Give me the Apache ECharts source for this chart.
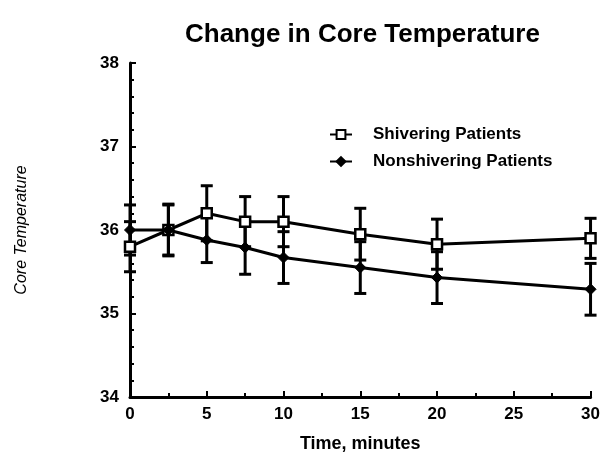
<!DOCTYPE html>
<html>
<head>
<meta charset="utf-8">
<script src="https://cdn.jsdelivr.net/npm/echarts@6/dist/echarts.min.js"></script>
<style>
  html, body { margin: 0; padding: 0; background: #fff; }
  #chart { width: 603px; height: 468px; }
</style>
</head>
<body>
<div id="chart"></div>
<script>
// time points (minutes)
let times = [0, 2.5, 5, 7.5, 10, 15, 20, 30];

// mean core temperature
let shivering    = [35.8, 36.0, 36.2, 36.1, 36.1, 35.95, 35.83, 35.9];
let nonShivering = [36.0, 36.0, 35.88, 35.79, 35.67, 35.55, 35.43, 35.29];

// error bar half-widths
let shiveringErr    = [0.3, 0.3, 0.33, 0.3, 0.3, 0.31, 0.3, 0.24];
let nonShiveringErr = [0.3, 0.31, 0.27, 0.32, 0.31, 0.31, 0.31, 0.31];

let font = '"Liberation Sans", Arial, Helvetica, sans-serif';

let pairs = (ys) => times.map((t, i) => [t, ys[i]]);
let bars = (ys, err) => times.map((t, i) => [t, ys[i] - err[i], ys[i] + err[i]]);

function errorBar(params, api) {
    let x = api.value(0);
    let lo = api.coord([x, api.value(1)]);
    let hi = api.coord([x, api.value(2)]);
    let w = 6;
    let st = { stroke: '#000', lineWidth: 3 };
    return {
        type: 'group',
        children: [
            { type: 'line', shape: { x1: hi[0], y1: hi[1], x2: lo[0], y2: lo[1] }, style: st },
            { type: 'line', shape: { x1: hi[0] - w, y1: hi[1], x2: hi[0] + w, y2: hi[1] }, style: st },
            { type: 'line', shape: { x1: lo[0] - w, y1: lo[1], x2: lo[0] + w, y2: lo[1] }, style: st }
        ]
    };
}

let chart = echarts.init(document.getElementById('chart'));
chart.setOption({
    animation: false,
    backgroundColor: '#fff',
    title: {
        text: 'Change in Core Temperature',
        left: 180, top: 17,
        textStyle: { fontFamily: font, fontSize: 26, fontWeight: 'bold', color: '#000' }
    },
    legend: {
        orient: 'vertical',
        left: 324, top: 121,
        itemGap: 10,
        itemWidth: 22, itemHeight: 11,
        data: ['Shivering Patients', 'Nonshivering Patients'],
        textStyle: { fontFamily: font, fontSize: 17, fontWeight: 'bold', color: '#000', padding: [0, 0, 0, 16] }
    },
    grid: { left: 130, right: 11, top: 63, bottom: 71 },
    xAxis: {
        type: 'value', min: 0, max: 30, interval: 5,
        name: 'Time, minutes', nameLocation: 'middle', nameGap: 38,
        nameTextStyle: { fontFamily: font, fontSize: 18, fontWeight: 'bold', color: '#000' },
        axisLine: { lineStyle: { color: '#000', width: 3 } },
        axisTick: { inside: true, length: 6, lineStyle: { color: '#000', width: 2 } },
        minorTick: { show: true, splitNumber: 2, length: 4, lineStyle: { color: '#000', width: 2 } },
        splitLine: { show: false },
        axisLabel: { fontFamily: font, fontSize: 17, fontWeight: 'bold', color: '#000', margin: 9 }
    },
    yAxis: {
        type: 'value', min: 34, max: 38, interval: 1,
        name: 'Core Temperature', nameLocation: 'middle', nameGap: 100, nameRotate: 90,
        nameTextStyle: { fontFamily: font, fontSize: 16, fontStyle: 'italic', color: '#000' },
        axisLine: { lineStyle: { color: '#000', width: 3 } },
        axisTick: { inside: true, length: 6, lineStyle: { color: '#000', width: 2 } },
        minorTick: { show: true, splitNumber: 5, length: 4, lineStyle: { color: '#000', width: 2 } },
        splitLine: { show: false },
        axisLabel: { fontFamily: font, fontSize: 17, fontWeight: 'bold', color: '#000', margin: 11 }
    },
    series: [
        {
            type: 'custom', renderItem: errorBar, data: bars(shivering, shiveringErr),
            encode: { x: 0, y: [1, 2] }, z: 1, silent: true
        },
        {
            type: 'custom', renderItem: errorBar, data: bars(nonShivering, nonShiveringErr),
            encode: { x: 0, y: [1, 2] }, z: 1, silent: true
        },
        {
            name: 'Shivering Patients', type: 'line', data: pairs(shivering), z: 3,
            symbol: 'rect', symbolSize: 10,
            lineStyle: { color: '#000', width: 3 },
            itemStyle: { color: '#fff', borderColor: '#000', borderWidth: 2.5 }
        },
        {
            name: 'Nonshivering Patients', type: 'line', data: pairs(nonShivering), z: 3,
            symbol: 'diamond', symbolSize: 11,
            lineStyle: { color: '#000', width: 3 },
            itemStyle: { color: '#000', borderColor: '#000', borderWidth: 1 }
        }
    ]
});
</script>
</body>
</html>
